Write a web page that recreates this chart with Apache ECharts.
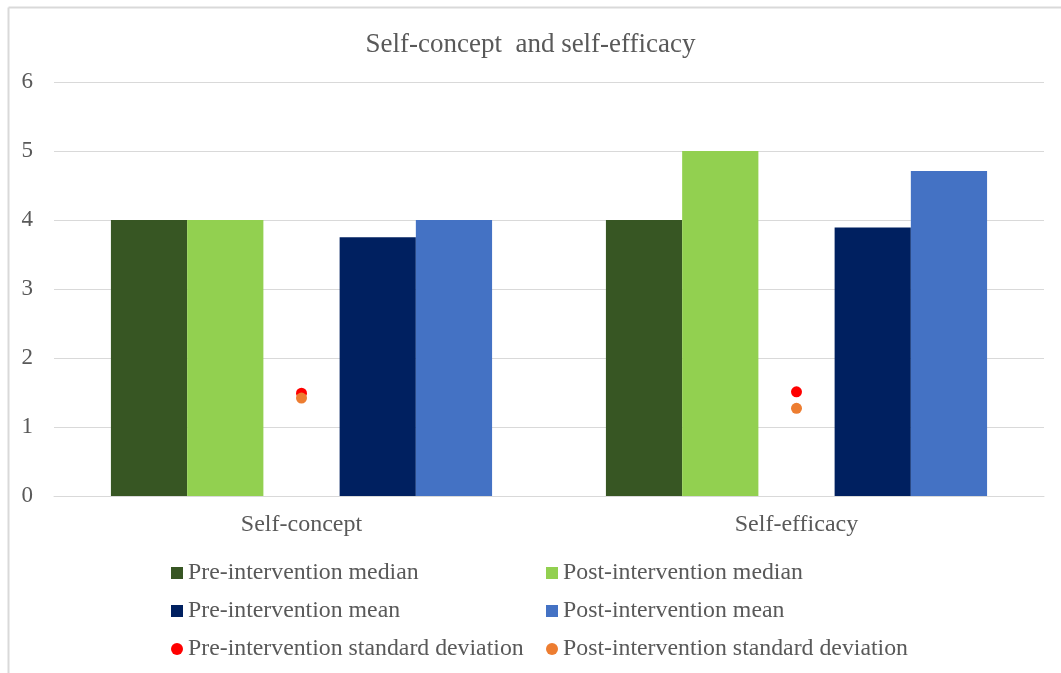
<!DOCTYPE html>
<html>
<head>
<meta charset="utf-8">
<style>
  html, body { margin: 0; padding: 0; background: #ffffff; }
  #chart { width: 1061px; height: 673px; }
</style>
<script src="https://cdn.jsdelivr.net/npm/echarts@6/dist/echarts.min.js"></script>
</head>
<body>
<div id="chart"></div>
<script>
// Categories and measured values
const categories = ['Self-concept', 'Self-efficacy'];
const preMedian = [4, 4];
const postMedian = [4, 5];
const preMean = [3.75, 3.89];
const postMean = [4.0, 4.71];
const preSD = [1.49, 1.51];
const postSD = [1.42, 1.27];
const yTicks = [0, 1, 2, 3, 4, 5, 6];

const FONT = "'Liberation Serif', 'Times New Roman', serif";
const TXT = '#595959';
const GRID = '#d9d9d9';

const chart = echarts.init(document.getElementById('chart'), null, { renderer: 'canvas' });

const barSeries = (name, data, color) => ({
  name, type: 'bar', data,
  barGap: '0%', barCategoryGap: '23%',
  itemStyle: { color },
  emphasis: { disabled: true }
});

const legendBase = {
  orient: 'vertical',
  itemWidth: 12, itemHeight: 12, itemGap: 14,
  textStyle: { fontFamily: FONT, fontSize: 23.8, lineHeight: 24, color: TXT },
  selectedMode: false
};

chart.setOption({
  animation: false,
  backgroundColor: '#ffffff',
  title: {
    text: 'Self-concept  and self-efficacy',
    left: 'center', top: 26,
    textStyle: { fontFamily: FONT, fontSize: 27, fontWeight: 'normal', color: TXT }
  },
  graphic: [
    { type: 'line', shape: { x1: 8.5, y1: 7.5, x2: 8.5, y2: 673 }, style: { stroke: GRID, lineWidth: 2 } },
    { type: 'line', shape: { x1: 8.5, y1: 7.5, x2: 1061, y2: 7.5 }, style: { stroke: GRID, lineWidth: 2 } }
  ],
  legend: [
    Object.assign({}, legendBase, {
      left: 166, top: 556,
      data: [
        { name: 'Pre-intervention median', icon: 'rect' },
        { name: 'Pre-intervention mean', icon: 'rect' },
        { name: 'Pre-intervention standard deviation', icon: 'circle' }
      ]
    }),
    Object.assign({}, legendBase, {
      left: 541, top: 556,
      data: [
        { name: 'Post-intervention median', icon: 'rect' },
        { name: 'Post-intervention mean', icon: 'rect' },
        { name: 'Post-intervention standard deviation', icon: 'circle' }
      ]
    })
  ],
  grid: { left: 54, right: 17, top: 82, bottom: 177, containLabel: false },
  xAxis: {
    type: 'category',
    data: categories,
    axisLine: { lineStyle: { color: GRID, width: 1 } },
    axisTick: { show: false },
    axisLabel: { fontFamily: FONT, fontSize: 24, color: TXT, margin: 17 }
  },
  yAxis: {
    type: 'value',
    min: yTicks[0], max: yTicks[yTicks.length - 1], interval: 1,
    axisLine: { show: false },
    axisTick: { show: false },
    splitLine: { lineStyle: { color: GRID, width: 1 } },
    axisLabel: { fontFamily: FONT, fontSize: 23, color: TXT, margin: 21 }
  },
  series: [
    barSeries('Pre-intervention median', preMedian, '#375623'),
    barSeries('Post-intervention median', postMedian, '#92d050'),
    // empty slot between the median and mean pairs
    barSeries('', [null, null], 'rgba(0,0,0,0)'),
    barSeries('Pre-intervention mean', preMean, '#002060'),
    barSeries('Post-intervention mean', postMean, '#4472c4'),
    {
      name: 'Pre-intervention standard deviation', type: 'scatter', data: preSD,
      symbol: 'circle', symbolSize: 11, itemStyle: { color: '#ff0000', opacity: 1 }, z: 3
    },
    {
      name: 'Post-intervention standard deviation', type: 'scatter', data: postSD,
      symbol: 'circle', symbolSize: 11, itemStyle: { color: '#ed7d31', opacity: 1 }, z: 4
    }
  ]
});
</script>
</body>
</html>
